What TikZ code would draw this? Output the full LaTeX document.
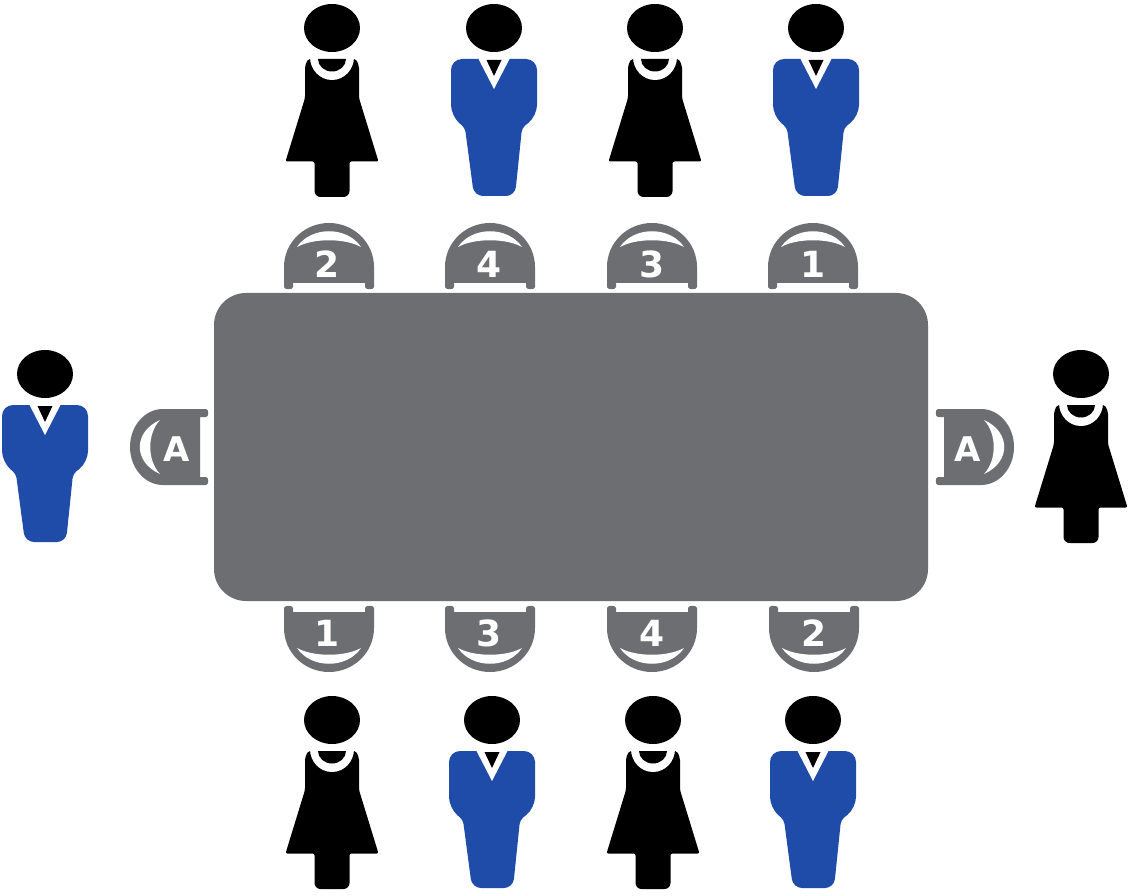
\documentclass[tikz,border=0pt]{standalone}
\usepackage{fontspec}
\setmainfont{DejaVu Sans}
\definecolor{tablegray}{HTML}{6D6E71}
\definecolor{suitblue}{HTML}{1F4CA8}
\tikzset{
  x=1pt,y=-1pt,
  seatnum/.style={text=white,font=\bfseries\fontsize{36}{36}\selectfont,inner sep=0pt},
  seatletter/.style={text=white,font=\bfseries\fontsize{34}{34}\selectfont,inner sep=0pt},
  woman/.pic={
    \fill[black] (0,0) ellipse[x radius=28,y radius=24];
    \fill[black,rounded corners=2pt] (-24,31) -- (-27,38) -- (-27,70) -- (-46.5,133.5) -- (-17.5,133.5) [rounded corners=6pt] -- (-17.5,169) -- (17.5,169) [rounded corners=2pt] -- (17.5,133.5) -- (46.5,133.5) -- (27,70) -- (27,38) -- (24,31) -- cycle;
    \fill[white] (-22,29) arc[start angle=180,end angle=0,x radius=22,y radius=23] -- cycle;
    \fill[black] (-14,31) arc[start angle=180,end angle=0,x radius=14,y radius=12.5] -- cycle;
  },
  man/.pic={
    \fill[black] (0,0) ellipse[x radius=28,y radius=24];
    \fill[suitblue,rounded corners=11pt] (-43,31) -- (43,31) -- (43,88) [rounded corners=4pt] -- (28,100) [rounded corners=9pt] -- (21,168) -- (-20,168) [rounded corners=4pt] -- (-29,100) [rounded corners=11pt] -- (-43,88) -- cycle;
    \fill[white] (-16,30) -- (16,30) -- (0,61) -- cycle;
    \fill[black] (-7.5,32) -- (7.5,32) -- (0,48) -- cycle;
  },
  chair/.pic={
    \fill[tablegray] (-45,-3) -- (-45,-23) arc[start angle=180,end angle=360,x radius=45,y radius=44]
      -- (45,-3)
      .. controls (45,0) and (36,0) .. (36,-3) -- (36,-7) -- (-36,-7) -- (-36,-3)
      .. controls (-36,0) and (-45,0) .. (-45,-3) -- cycle;
    \fill[white] (-32,-43) .. controls (-18,-64) and (18,-64) .. (32,-43)
      .. controls (16,-52) and (-16,-52) .. (-32,-43) -- cycle;
  },
  sidechair/.pic={
    \fill[tablegray] (-38,-3) -- (-38,-46) arc[start angle=180,end angle=360,x radius=38,y radius=33]
      -- (38,-3)
      .. controls (38,0) and (30,0) .. (30,-3) -- (30,-9) -- (-30,-9) -- (-30,-3)
      .. controls (-30,0) and (-38,0) .. (-38,-3) -- cycle;
    \fill[white] (-27,-49) .. controls (-15,-76) and (15,-76) .. (27,-49)
      .. controls (13,-62) and (-13,-62) .. (-27,-49) -- cycle;
  }
}
\begin{document}
\begin{tikzpicture}
\useasboundingbox (0,0) rectangle (1128,896);
% table
\fill[tablegray,rounded corners=32pt] (214,293) rectangle (928,601);
% chairs
\pic at (329,290) {chair};
\pic at (490,290) {chair};
\pic at (652,290) {chair};
\pic at (813,290) {chair};
\pic[yscale=-1] at (329,605) {chair};
\pic[yscale=-1] at (490,605) {chair};
\pic[yscale=-1] at (652,605) {chair};
\pic[yscale=-1] at (814,605) {chair};
\pic[rotate=90] at (209,447) {sidechair};
\pic[rotate=-90] at (935,447) {sidechair};
% labels
\node[seatnum] (t1) at (327,264) {2};
\node[seatnum] (t2) at (489,264) {4};
\node[seatnum] (t3) at (652,264) {3};
\node[seatnum] (t4) at (813,264) {1};
\node[seatnum] (b1) at (327,633) {1};
\node[seatnum] (b2) at (489,633) {3};
\node[seatnum] (b3) at (652,633) {4};
\node[seatnum] (b4) at (814,633) {2};
\node[seatletter] (la) at (177,449) {A};
\node[seatletter] (ra) at (968,449) {A};
% people
\pic at (332,28) {woman};
\pic at (494,28) {man};
\pic at (655,28) {woman};
\pic at (816,28) {man};
\pic at (45,374) {man};
\pic at (1081,374) {woman};
\pic at (332,720) {woman};
\pic at (492,720) {man};
\pic at (653,720) {woman};
\pic at (813,720) {man};
\end{tikzpicture}
\end{document}
